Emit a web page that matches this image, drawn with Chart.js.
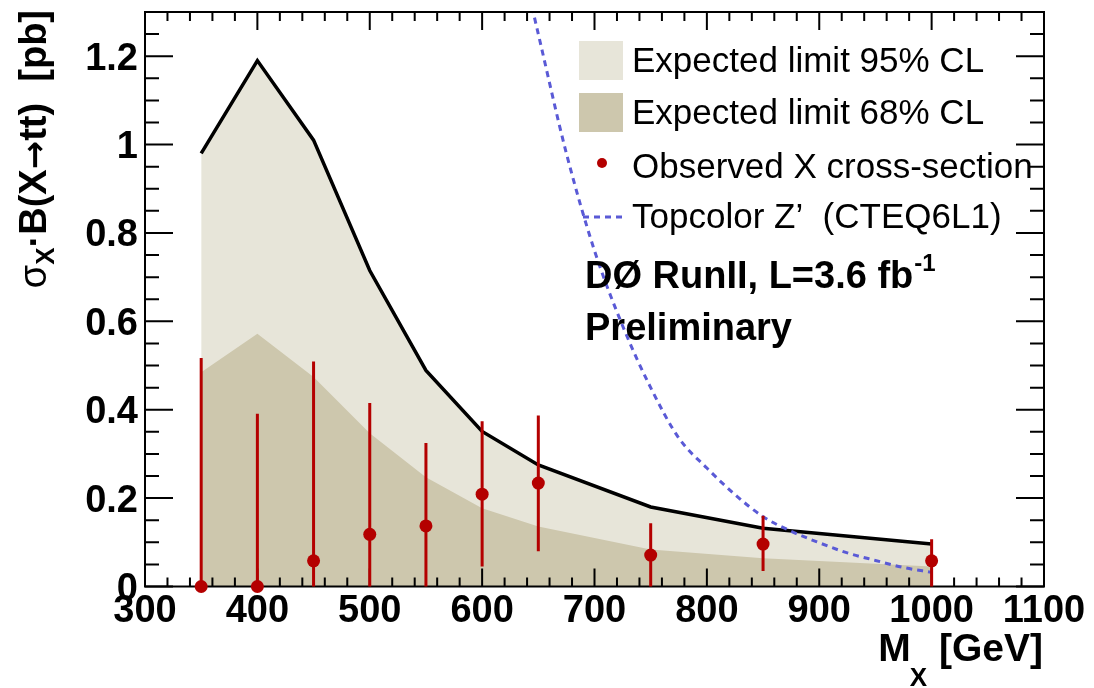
<!DOCTYPE html>
<html>
<head>
<meta charset="utf-8">
<script src="https://cdn.jsdelivr.net/npm/chart.js@4.4.1/dist/chart.umd.min.js"></script>
<style>
  html, body { margin: 0; padding: 0; background: #fff; }
  #wrap { width: 1094px; height: 688px; }
</style>
</head>
<body>
<div id="wrap"><canvas id="limits" width="1094" height="688"></canvas></div>
<script>
// mass points of the limit scan [GeV]
const masses = [350, 400, 450, 500, 550, 600, 650, 750, 850, 1000];
// upper edges of the expected-limit bands [pb]
const expected95 = [0.98, 1.19, 1.01, 0.715, 0.489, 0.351, 0.275, 0.180, 0.132, 0.096];
const expected68 = [0.485, 0.572, 0.474, 0.347, 0.247, 0.177, 0.136, 0.084, 0.064, 0.045];
// observed cross-section with error bar ends [pb]
const observed = [0, 0, 0.058, 0.118, 0.137, 0.209, 0.234, 0.071, 0.096, 0.058];
const observedHigh = [0.517, 0.391, 0.509, 0.415, 0.325, 0.374, 0.387, 0.143, 0.160, 0.107];
const observedLow = [0, 0, 0, 0, 0, 0.045, 0.080, 0, 0.035, 0];
// topcolor Z' prediction
const zMasses = [640, 650, 675, 700, 725, 750, 775, 800, 825, 850, 875, 900, 925, 950, 975, 1000];
const zPrime = [1.36, 1.25, 0.98, 0.76, 0.59, 0.45, 0.336, 0.268, 0.208, 0.158, 0.125, 0.099, 0.076, 0.059, 0.043, 0.032];
// axis tick labels
const xTicks = [300, 400, 500, 600, 700, 800, 900, 1000, 1100];
const yTicks = [0, 0.2, 0.4, 0.6, 0.8, 1.0, 1.2];

const FONT = '"Liberation Sans", Arial, Helvetica, sans-serif';
const LIGHT = '#e7e5d9';
const DARK = '#cdc7ad';
const RED = '#b40000';
const BLUE = '#5a5ad6';

const pts = (xs, ys) => xs.map((x, i) => ({ x: x, y: ys[i] }));

// frame + ROOT style inward ticks, drawn just before the observed points
const frameTicks = {
    id: 'frameTicks',
    afterDatasetDraw(chart, args) {
        if (args.index !== 3)
            return;
        const ctx = chart.ctx;
        const a = chart.chartArea;
        const xs = chart.scales.x;
        const ys = chart.scales.y;
        ctx.save();
        ctx.strokeStyle = '#000';
        ctx.lineWidth = 2;
        ctx.beginPath();
        for (let v = 300; v <= 1100; v += 20) {
            const px = xs.getPixelForValue(v);
            const len = (v % 100 === 0) ? 18 : 9;
            ctx.moveTo(px, a.bottom); ctx.lineTo(px, a.bottom - len);
            ctx.moveTo(px, a.top); ctx.lineTo(px, a.top + len);
        }
        for (let k = 0; k <= 26; k++) {
            const v = k * 0.05;
            const py = ys.getPixelForValue(v);
            const len = (k % 4 === 0) ? 28 : 14;
            ctx.moveTo(a.left, py); ctx.lineTo(a.left + len, py);
            ctx.moveTo(a.right, py); ctx.lineTo(a.right - len, py);
        }
        ctx.stroke();
        ctx.strokeRect(a.left, a.top, a.right - a.left, a.bottom - a.top);
        ctx.restore();
    }
};

const errorBars = {
    id: 'errorBars',
    beforeDatasetDraw(chart, args) {
        if (args.index !== 4)
            return;
        const ctx = chart.ctx;
        const xs = chart.scales.x;
        const ys = chart.scales.y;
        ctx.save();
        ctx.strokeStyle = RED;
        ctx.lineWidth = 3;
        ctx.beginPath();
        masses.forEach((m, i) => {
            const px = xs.getPixelForValue(m);
            ctx.moveTo(px, ys.getPixelForValue(observedLow[i]));
            ctx.lineTo(px, ys.getPixelForValue(observedHigh[i]));
        });
        ctx.stroke();
        ctx.restore();
    }
};

const annotations = {
    id: 'annotations',
    afterDraw(chart) {
        const ctx = chart.ctx;
        ctx.save();
        ctx.fillStyle = '#000';
        ctx.textBaseline = 'alphabetic';

        // legend
        const tx = 632;
        ctx.fillStyle = LIGHT;
        ctx.fillRect(579, 41, 44, 39);
        ctx.fillStyle = DARK;
        ctx.fillRect(579, 93, 44, 39);
        ctx.fillStyle = RED;
        ctx.beginPath();
        ctx.arc(602, 163, 5, 0, Math.PI * 2);
        ctx.fill();
        ctx.strokeStyle = BLUE;
        ctx.lineWidth = 3;
        ctx.setLineDash([6, 5]);
        ctx.beginPath();
        ctx.moveTo(583, 217); ctx.lineTo(623, 217);
        ctx.stroke();
        ctx.setLineDash([]);

        ctx.fillStyle = '#000';
        ctx.font = '35px ' + FONT;
        ctx.fillText('Expected limit 95% CL', tx, 72);
        ctx.fillText('Expected limit 68% CL', tx, 124);
        ctx.fillText('Observed X cross-section', tx, 178);
        ctx.fillText('Topcolor Z\u2019  (CTEQ6L1)', tx, 228);

        // experiment label
        ctx.font = 'bold 38px ' + FONT;
        const lumi = 'D\u00D8 RunII, L=3.6 fb';
        ctx.fillText(lumi, 585, 288);
        const lw = ctx.measureText(lumi).width;
        ctx.font = 'bold 24px ' + FONT;
        ctx.fillText('-1', 585 + lw + 1, 271);
        ctx.font = 'bold 38px ' + FONT;
        ctx.fillText('Preliminary', 585, 340);

        // x title, right aligned to the frame
        ctx.font = 'bold 39px ' + FONT;
        const tail = ' [GeV]';
        const wTail = ctx.measureText(tail).width;
        const wM = ctx.measureText('M').width;
        ctx.font = 'bold 26px ' + FONT;
        const wSub = ctx.measureText('X').width;
        const x0 = 1043 - wTail - wSub - wM;
        ctx.font = 'bold 39px ' + FONT;
        ctx.fillText('M', x0, 661);
        ctx.fillText(tail, x0 + wM + wSub, 661);
        ctx.font = 'bold 26px ' + FONT;
        ctx.fillText('X', x0 + wM - 1, 686);

        // y title, rotated, ending at the top of the frame
        ctx.translate(46, 10);
        ctx.rotate(-Math.PI / 2);
        const parts = [
            { t: '\u03C3', f: '38px ' + FONT, dy: 0 },
            { t: 'X', f: 'bold 26px ' + FONT, dy: 8 },
            { t: '\u00B7B(X', f: 'bold 38px ' + FONT, dy: 0 },
            { t: '\u2192', f: 'bold 34px "DejaVu Sans", sans-serif', dy: 0 },
            { t: 'tt)  [pb]', f: 'bold 38px ' + FONT, dy: 0 }
        ];
        let total = 0;
        parts.forEach(p => { ctx.font = p.f; p.w = ctx.measureText(p.t).width; total += p.w; });
        let cx = -total;
        parts.forEach(p => {
            ctx.font = p.f;
            ctx.fillText(p.t, cx, p.dy);
            cx += p.w;
        });
        ctx.restore();
    }
};

new Chart(document.getElementById('limits'), {
    type: 'line',
    data: {
        datasets: [
            {
                label: 'Expected limit 95% CL',
                data: pts(masses, expected95),
                fill: 'origin',
                backgroundColor: LIGHT,
                borderWidth: 0,
                pointRadius: 0,
                tension: 0,
                order: 5
            },
            {
                label: 'Expected limit 68% CL',
                data: pts(masses, expected68),
                fill: 'origin',
                backgroundColor: DARK,
                borderWidth: 0,
                pointRadius: 0,
                tension: 0,
                order: 4
            },
            {
                label: 'expected 95% edge',
                data: pts(masses, expected95),
                fill: false,
                borderColor: '#000',
                borderWidth: 3.5,
                pointRadius: 0,
                tension: 0,
                order: 3
            },
            {
                label: 'Topcolor Z\u2019',
                data: pts(zMasses, zPrime),
                fill: false,
                borderColor: BLUE,
                borderWidth: 3,
                borderDash: [6, 5],
                pointRadius: 0,
                cubicInterpolationMode: 'monotone',
                order: 2
            },
            {
                label: 'Observed X cross-section',
                data: pts(masses, observed),
                showLine: false,
                pointRadius: 6.5,
                pointBackgroundColor: RED,
                pointBorderWidth: 0,
                clip: false,
                order: 1
            }
        ]
    },
    options: {
        responsive: false,
        animation: false,
        devicePixelRatio: 1,
        events: [],
        layout: { padding: { left: 0, top: 12, right: 50, bottom: 0 } },
        plugins: {
            legend: { display: false },
            tooltip: { enabled: false }
        },
        scales: {
            x: {
                type: 'linear',
                min: 300,
                max: 1100,
                grid: { display: false, drawTicks: false },
                border: { display: false },
                afterBuildTicks: s => { s.ticks = xTicks.map(v => ({ value: v })); },
                afterFit: s => { s.height = 101.5; s.paddingLeft = 0; s.paddingRight = 0; },
                ticks: {
                    color: '#000',
                    padding: 2,
                    maxRotation: 0,
                    autoSkip: false,
                    font: { family: FONT, weight: 'bold', size: 38 },
                    callback: v => String(v)
                }
            },
            y: {
                type: 'linear',
                min: 0,
                max: 1.3,
                grid: { display: false, drawTicks: false },
                border: { display: false },
                afterBuildTicks: s => { s.ticks = yTicks.map(v => ({ value: v })); },
                afterFit: s => { s.width = 145; s.paddingTop = 0; s.paddingBottom = 0; },
                ticks: {
                    color: '#000',
                    padding: 7,
                    labelOffset: 3,
                    autoSkip: false,
                    font: { family: FONT, weight: 'bold', size: 38 },
                    callback: v => String(+v.toFixed(1))
                }
            }
        }
    },
    plugins: [frameTicks, errorBars, annotations]
});
</script>
</body>
</html>
